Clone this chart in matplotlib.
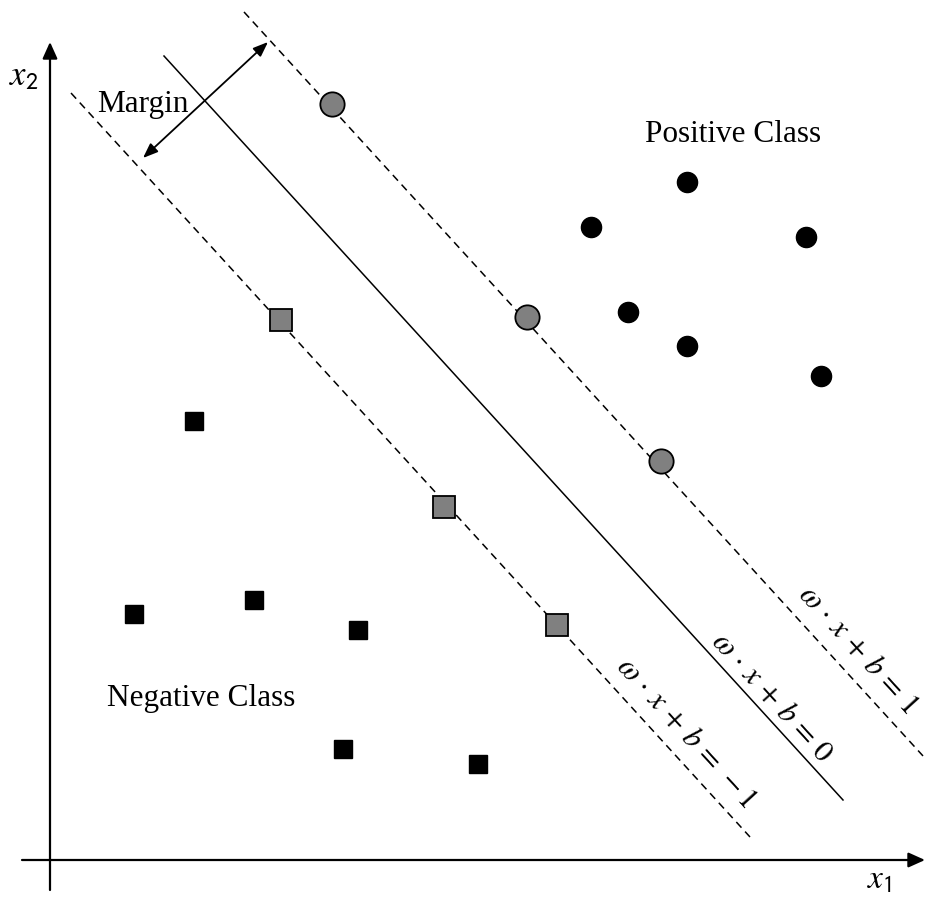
import numpy as np
import matplotlib.pyplot as plt

plt.rcParams['mathtext.fontset'] = 'stix'

# positive class points (x1, x2)
pos_x = [541, 637, 756, 578, 637, 771]
pos_y = [633, 678, 623, 548, 514, 484]
# positive support vectors (on w.x+b=1)
pos_sv_x = [282, 477, 611]
pos_sv_y = [756, 543, 399]

# negative class points
neg_x = [144, 84, 204, 308, 293, 428]
neg_y = [439, 246, 260, 230, 111, 96]
# negative support vectors (on w.x+b=-1)
neg_sv_x = [231, 394, 507]
neg_sv_y = [540, 353, 235]

# hyperplanes: x2 = c - slope * x1
slope = 1.0957
intercepts = [1060.6, 928.9, 790.0]
line_start = [194, 114, 21]
line_span = 679
line_styles = [(0, (5, 3.5)), '-', (0, (5, 3.5))]
line_labels = [r'$\omega\,\cdot\,x\,+\,b\,=\,1$',
               r'$\omega\,\cdot\,x\,+\,b\,=\,0$',
               r'$\omega\,\cdot\,x\,+\,b\,=\,-1$']
label_pos = [(808, 211), (722, 163), (636, 128)]

fig = plt.figure(figsize=(9.26, 8.97), dpi=100)
ax = fig.add_axes([0, 0, 1, 1])
ax.set_xlim(-50, 876)
ax.set_ylim(-37, 860)
ax.axis('off')

# axes with arrows
head = '-|>,head_length=1.0,head_width=0.45'
ax.annotate('', xy=(875, 0), xytext=(-28, 0),
            arrowprops=dict(arrowstyle=head, lw=1.6, color='black',
                            shrinkA=0, shrinkB=0))
ax.annotate('', xy=(0, 818), xytext=(0, -30),
            arrowprops=dict(arrowstyle=head, lw=1.6, color='black',
                            shrinkA=0, shrinkB=0))
ax.text(-26, 785, r'$x_{\mathsf{2}}$', fontsize=25, ha='center', va='center')
ax.text(829, -19, r'$x_{\mathsf{1}}$', fontsize=24, ha='center', va='center')

# hyperplanes
angle = -np.degrees(np.arctan(slope))
for c, x0, ls, lab, (tx, ty) in zip(intercepts, line_start, line_styles,
                                    line_labels, label_pos):
    xs = np.array([x0, x0 + line_span])
    ax.plot(xs, c - slope * xs, color='black', lw=1.1, linestyle=ls, zorder=1)
    ax.text(tx, ty, lab, fontsize=22, rotation=angle, rotation_mode='anchor',
            ha='center', va='center')

# points
ax.plot(pos_x, pos_y, 'o', color='black', markersize=14.5, zorder=3)
ax.plot(pos_sv_x, pos_sv_y, 'o', color='#808080', markeredgecolor='black',
        markeredgewidth=1.3, markersize=17.5, zorder=3)
ax.plot(neg_x, neg_y, 's', color='black', markersize=13.5, zorder=3)
ax.plot(neg_sv_x, neg_sv_y, 's', color='#808080', markeredgecolor='black',
        markeredgewidth=1.3, markersize=16.5, zorder=3)

# margin arrow
ax.annotate('', xy=(218, 818), xytext=(93, 702),
            arrowprops=dict(arrowstyle='<|-|>,head_length=0.9,head_width=0.35',
                            lw=1.3, color='black', shrinkA=0, shrinkB=0))

serif = 'Liberation Serif'
ax.text(47, 748, 'Margin', fontsize=22.5, family=serif, ha='left', va='baseline')
ax.text(595, 718, 'Positive Class', fontsize=22.5, family=serif,
        ha='left', va='baseline')
ax.text(57, 154, 'Negative Class', fontsize=22.5, family=serif,
        ha='left', va='baseline')

fig.savefig('out.png', dpi=100)
